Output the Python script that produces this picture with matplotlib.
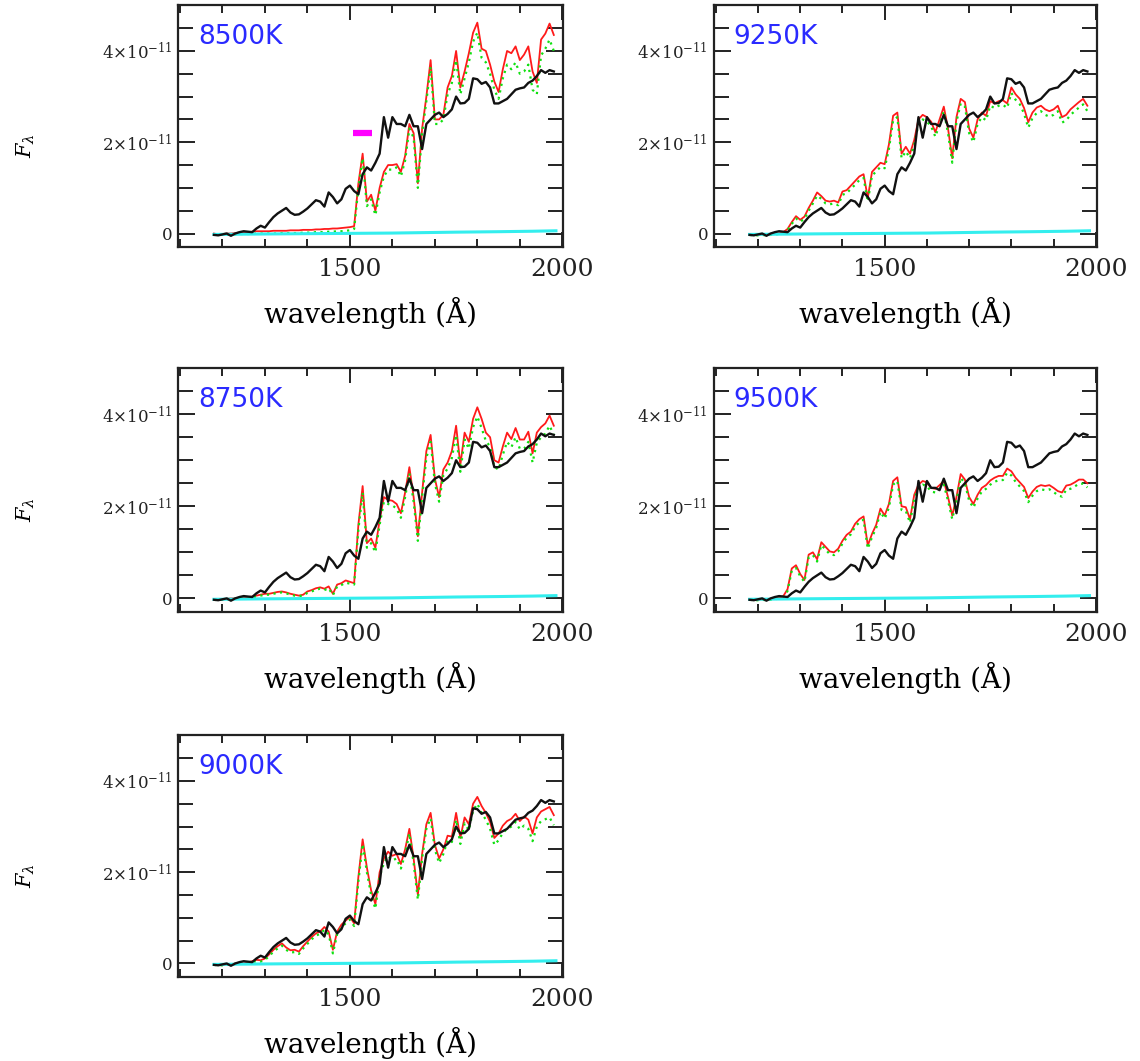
#! /bin/python3

import numpy as np
import matplotlib
matplotlib.use("Agg")
from matplotlib import pyplot as plt
from matplotlib.ticker import MultipleLocator, FixedLocator, FuncFormatter

plt.rcParams["font.family"] = ["DejaVu Serif"]
plt.rcParams["mathtext.fontset"] = "dejavuserif"

# wavelength grid (Angstrom), fluxes in units of 1e-11
wave = np.arange(1180, 1990, 10)

observed = [
    -0.03, -0.04, -0.02, 0.00, -0.05, 0.00, 0.03, 0.05, 0.04, 0.03,
    0.11, 0.17, 0.13, 0.25, 0.36, 0.44, 0.50, 0.56, 0.46, 0.41,
    0.42, 0.48, 0.55, 0.64, 0.73, 0.70, 0.59, 0.90, 0.80, 0.66,
    0.75, 0.98, 1.05, 0.93, 0.86, 1.30, 1.45, 1.38, 1.55, 1.75,
    2.55, 2.10, 2.55, 2.40, 2.40, 2.35, 2.60, 2.35, 2.35, 1.85,
    2.40, 2.50, 2.60, 2.65, 2.55, 2.62, 2.72, 3.00, 2.85, 2.86,
    2.95, 3.40, 3.38, 3.28, 3.32, 3.20, 2.85, 2.85, 2.90, 2.95,
    3.05, 3.15, 3.18, 3.20, 3.30, 3.35, 3.45, 3.58, 3.52, 3.58,
    3.55]

cyan_wave = [1180, 1300, 1450, 1600, 1750, 1850, 1930, 1985]
cyan_flux = [-0.02, -0.01, 0.00, 0.01, 0.03, 0.04, 0.05, 0.06]

labels = ["8500K", "9250K", "8750K", "9500K", "9000K"]

red = {}
green = {}

red["8500K"] = [
    0.00, -0.02, -0.01, 0.00, 0.00, 0.01, 0.02, 0.03, 0.03, 0.04,
    0.05, 0.05, 0.05, 0.05, 0.06, 0.06, 0.06, 0.06, 0.07, 0.07,
    0.07, 0.08, 0.08, 0.08, 0.09, 0.09, 0.10, 0.10, 0.11, 0.11,
    0.12, 0.13, 0.14, 0.16, 1.10, 1.75, 0.70, 0.85, 0.50, 1.00,
    1.35, 1.50, 1.50, 1.52, 1.35, 1.70, 2.40, 2.20, 1.10, 2.30,
    3.00, 3.80, 2.50, 2.50, 2.60, 3.20, 3.45, 4.00, 3.20, 3.55,
    3.95, 4.40, 4.62, 4.05, 4.00, 3.70, 3.33, 3.10, 3.60, 4.00,
    3.95, 4.10, 3.80, 3.92, 4.10, 3.55, 3.30, 4.25, 4.38, 4.60,
    4.35]
green["8500K"] = [
    -0.02, -0.03, -0.03, -0.02, -0.02, -0.02, -0.01, -0.01, -0.01, -0.01,
    0.00, 0.00, 0.00, 0.00, 0.00, 0.00, 0.01, 0.01, 0.01, 0.01,
    0.01, 0.02, 0.02, 0.02, 0.03, 0.03, 0.03, 0.04, 0.04, 0.05,
    0.05, 0.06, 0.07, 0.10, 1.00, 1.65, 0.60, 0.75, 0.40, 0.90,
    1.25, 1.40, 1.40, 1.45, 1.25, 1.60, 2.30, 2.10, 1.00, 2.20,
    2.90, 3.65, 2.40, 2.40, 2.50, 3.05, 3.30, 3.80, 3.05, 3.40,
    3.75, 4.20, 4.40, 3.85, 3.75, 3.50, 3.15, 2.95, 3.40, 3.70,
    3.60, 3.75, 3.50, 3.55, 3.70, 3.15, 3.05, 3.90, 4.05, 4.25,
    4.00]

red["9250K"] = [
    -0.02, -0.03, -0.03, -0.02, -0.03, -0.02, -0.01, 0.00, 0.03, 0.10,
    0.25, 0.38, 0.30, 0.37, 0.56, 0.72, 0.90, 0.82, 0.72, 0.70,
    0.72, 0.68, 0.92, 0.95, 1.05, 1.15, 1.25, 1.30, 0.78, 1.35,
    1.45, 1.55, 1.52, 1.95, 2.58, 2.65, 1.75, 1.90, 1.75, 2.05,
    2.50, 2.60, 2.55, 2.45, 2.22, 2.50, 2.78, 2.30, 1.65, 2.55,
    2.95, 2.88, 2.30, 2.10, 2.50, 2.65, 2.58, 2.90, 2.85, 2.90,
    2.92, 2.85, 3.20, 3.05, 2.95, 2.75, 2.44, 2.65, 2.76, 2.80,
    2.72, 2.68, 2.72, 2.80, 2.55, 2.60, 2.72, 2.80, 2.88, 2.95,
    2.80]
green["9250K"] = [
    -0.03, -0.04, -0.04, -0.03, -0.04, -0.03, -0.02, -0.01, 0.01, 0.07,
    0.21, 0.33, 0.26, 0.32, 0.50, 0.66, 0.83, 0.76, 0.66, 0.64,
    0.66, 0.62, 0.85, 0.88, 0.98, 1.07, 1.17, 1.22, 0.70, 1.27,
    1.36, 1.46, 1.43, 1.85, 2.48, 2.55, 1.65, 1.80, 1.65, 1.95,
    2.40, 2.50, 2.45, 2.35, 2.12, 2.40, 2.68, 2.20, 1.55, 2.45,
    2.85, 2.78, 2.20, 2.00, 2.40, 2.55, 2.48, 2.80, 2.75, 2.80,
    2.82, 2.75, 3.08, 2.93, 2.83, 2.63, 2.32, 2.53, 2.64, 2.68,
    2.60, 2.56, 2.60, 2.68, 2.43, 2.48, 2.60, 2.68, 2.76, 2.83,
    2.68]

red["8750K"] = [
    -0.02, -0.03, -0.02, -0.01, 0.00, 0.00, 0.01, 0.02, 0.03, 0.04,
    0.06, 0.08, 0.10, 0.10, 0.12, 0.14, 0.15, 0.13, 0.10, 0.08,
    0.06, 0.08, 0.15, 0.18, 0.22, 0.24, 0.21, 0.26, 0.10, 0.30,
    0.33, 0.39, 0.36, 0.33, 1.60, 2.44, 1.20, 1.30, 1.10, 1.70,
    2.20, 2.14, 2.12, 2.05, 1.85, 2.30, 2.85, 2.20, 1.35, 2.30,
    3.20, 3.55, 2.60, 2.20, 2.80, 2.95, 3.20, 3.75, 2.90, 3.60,
    3.40, 3.90, 4.15, 3.90, 3.60, 3.50, 3.00, 2.95, 3.30, 3.60,
    3.46, 3.70, 3.45, 3.45, 3.62, 3.15, 3.60, 3.72, 3.80, 3.97,
    3.75]
green["8750K"] = [
    -0.03, -0.04, -0.03, -0.02, -0.01, -0.01, 0.00, 0.01, 0.02, 0.03,
    0.04, 0.06, 0.08, 0.08, 0.10, 0.12, 0.13, 0.11, 0.08, 0.06,
    0.05, 0.06, 0.12, 0.15, 0.19, 0.21, 0.18, 0.22, 0.07, 0.26,
    0.29, 0.34, 0.32, 0.30, 1.50, 2.30, 1.10, 1.20, 1.00, 1.60,
    2.10, 2.05, 2.02, 1.95, 1.75, 2.20, 2.72, 2.10, 1.25, 2.20,
    3.05, 3.40, 2.50, 2.10, 2.68, 2.82, 3.05, 3.55, 2.75, 3.45,
    3.25, 3.72, 3.95, 3.70, 3.42, 3.30, 2.85, 2.80, 3.12, 3.40,
    3.28, 3.50, 3.25, 3.25, 3.40, 2.95, 3.38, 3.50, 3.58, 3.75,
    3.55]

red["9500K"] = [
    -0.02, -0.03, -0.03, -0.02, -0.03, -0.02, -0.01, 0.01, 0.05, 0.20,
    0.65, 0.72, 0.53, 0.40, 0.95, 1.00, 0.85, 1.22, 1.12, 1.02,
    1.00, 1.08, 1.25, 1.38, 1.45, 1.62, 1.72, 1.78, 1.15, 1.40,
    1.60, 1.95, 1.80, 2.05, 2.55, 2.63, 2.00, 1.98, 1.72, 2.25,
    2.47, 2.55, 2.52, 2.40, 2.38, 2.46, 2.55, 2.20, 1.80, 2.20,
    2.70, 2.58, 2.20, 2.05, 2.25, 2.40, 2.46, 2.56, 2.62, 2.66,
    2.66, 2.82, 2.76, 2.62, 2.52, 2.42, 2.18, 2.32, 2.42, 2.46,
    2.44, 2.46, 2.40, 2.33, 2.30, 2.45, 2.47, 2.52, 2.58, 2.58,
    2.50]
green["9500K"] = [
    -0.03, -0.04, -0.04, -0.03, -0.04, -0.03, -0.02, 0.00, 0.03, 0.16,
    0.60, 0.66, 0.48, 0.36, 0.89, 0.94, 0.80, 1.16, 1.06, 0.96,
    0.94, 1.02, 1.19, 1.32, 1.39, 1.56, 1.65, 1.71, 1.08, 1.33,
    1.53, 1.88, 1.73, 1.97, 2.47, 2.55, 1.92, 1.90, 1.64, 2.17,
    2.39, 2.47, 2.44, 2.32, 2.30, 2.38, 2.47, 2.12, 1.72, 2.12,
    2.62, 2.50, 2.12, 1.97, 2.17, 2.32, 2.38, 2.47, 2.53, 2.57,
    2.57, 2.73, 2.67, 2.53, 2.43, 2.33, 2.09, 2.23, 2.33, 2.37,
    2.35, 2.37, 2.31, 2.24, 2.21, 2.36, 2.38, 2.43, 2.49, 2.49,
    2.41]

red["9000K"] = [
    -0.02, -0.03, -0.03, -0.02, -0.02, 0.00, 0.01, 0.00, 0.02, 0.05,
    0.08, 0.07, 0.11, 0.20, 0.30, 0.38, 0.44, 0.35, 0.29, 0.30,
    0.26, 0.38, 0.48, 0.58, 0.66, 0.70, 0.80, 0.70, 0.30, 0.70,
    0.85, 0.94, 1.02, 0.88, 1.90, 2.72, 2.10, 1.60, 1.30, 2.00,
    2.30, 2.45, 2.36, 2.40, 2.18, 2.50, 2.95, 2.30, 1.50, 2.40,
    3.05, 3.30, 2.60, 2.30, 2.50, 2.80, 2.78, 3.30, 2.75, 3.20,
    3.05, 3.50, 3.65, 3.45, 3.30, 3.10, 2.75, 2.85, 3.02, 3.12,
    3.17, 3.28, 3.12, 3.22, 3.15, 2.85, 3.20, 3.33, 3.38, 3.43,
    3.25]
green["9000K"] = [
    -0.03, -0.04, -0.04, -0.03, -0.03, -0.01, 0.00, -0.01, 0.01, 0.03,
    0.05, 0.04, 0.08, 0.16, 0.26, 0.33, 0.39, 0.30, 0.24, 0.25,
    0.21, 0.33, 0.43, 0.53, 0.61, 0.65, 0.74, 0.64, 0.22, 0.64,
    0.79, 0.88, 0.96, 0.82, 1.80, 2.62, 2.00, 1.50, 1.20, 1.90,
    2.20, 2.35, 2.26, 2.30, 2.08, 2.40, 2.85, 2.20, 1.40, 2.30,
    2.95, 3.18, 2.50, 2.20, 2.40, 2.70, 2.66, 3.15, 2.62, 3.07,
    2.92, 3.35, 3.50, 3.30, 3.15, 2.95, 2.60, 2.70, 2.86, 2.95,
    3.00, 3.10, 2.94, 3.02, 2.95, 2.68, 3.00, 3.12, 3.16, 3.20,
    3.03]

# short magenta marker in the 8500K panel
bar_wave = [1508, 1551]
bar_flux = [2.2, 2.2]

# axes boxes in figure fractions (left, bottom, width, height)
boxes = {
    "8500K": [0.156, 0.767, 0.338, 0.228],
    "9250K": [0.626, 0.767, 0.336, 0.228],
    "8750K": [0.156, 0.423, 0.338, 0.230],
    "9500K": [0.626, 0.423, 0.336, 0.230],
    "9000K": [0.156, 0.079, 0.338, 0.228],
}
left_column = ["8500K", "8750K", "9000K"]


def y_label(value, pos):
    if abs(value) < 1e-9:
        return "0"
    return "%d×10$^{-11}$" % round(value)


def draw_panel(fig, name):
    ax = fig.add_axes(boxes[name])
    ax.plot(wave, red[name], color="#ff1a1a", lw=1.3, zorder=2)
    ax.plot(wave, green[name], color="#10e010", lw=1.6, ls=(0, (1, 2)),
            zorder=3)
    ax.plot(cyan_wave, cyan_flux, color="#33eeee", lw=2.2, zorder=3)
    ax.plot(wave, observed, color="#111111", lw=1.7, zorder=4)
    if name == "8500K":
        ax.plot(bar_wave, bar_flux, color="#ff00ff", lw=4.5,
                solid_capstyle="butt", zorder=5)

    ax.set_xlim(1095, 2002)
    ax.set_ylim(-0.3, 5.0)

    ax.xaxis.set_major_locator(FixedLocator([1500, 2000]))
    ax.xaxis.set_minor_locator(MultipleLocator(100))
    ax.yaxis.set_major_locator(FixedLocator([0, 2, 4]))
    ax.yaxis.set_minor_locator(MultipleLocator(0.5))
    ax.yaxis.set_major_formatter(FuncFormatter(y_label))

    ax.tick_params(which="both", direction="in", top=True, right=True,
                   width=1.4, colors="#222222")
    ax.tick_params(axis="x", which="major", length=11, labelsize=18, pad=8)
    ax.tick_params(axis="x", which="minor", length=6)
    ax.tick_params(axis="y", which="major", length=12, labelsize=12, pad=4)
    ax.tick_params(axis="y", which="minor", length=11)
    for s in ax.spines.values():
        s.set_linewidth(1.6)
        s.set_color("#222222")

    # TITLES GRAPH X AND Y
    ax.set_xlabel("wavelength (Å)", fontsize=20, va="center")
    ax.xaxis.set_label_coords(0.5, -0.27)
    if name in left_column:
        ax.set_ylabel(r"$F_\lambda$", fontsize=15, va="center")
        ax.yaxis.set_label_coords(-0.395, 0.42)

    ax.text(0.052, 0.868, name, transform=ax.transAxes, color="#2a2aff",
            fontsize=19, family="DejaVu Sans", va="center", ha="left")


def main():
    fig = plt.figure(figsize=(11.4, 10.61), dpi=100)
    for name in labels:
        draw_panel(fig, name)
    fig.savefig("out.png", dpi=100)


if __name__ == "__main__":
    main()
